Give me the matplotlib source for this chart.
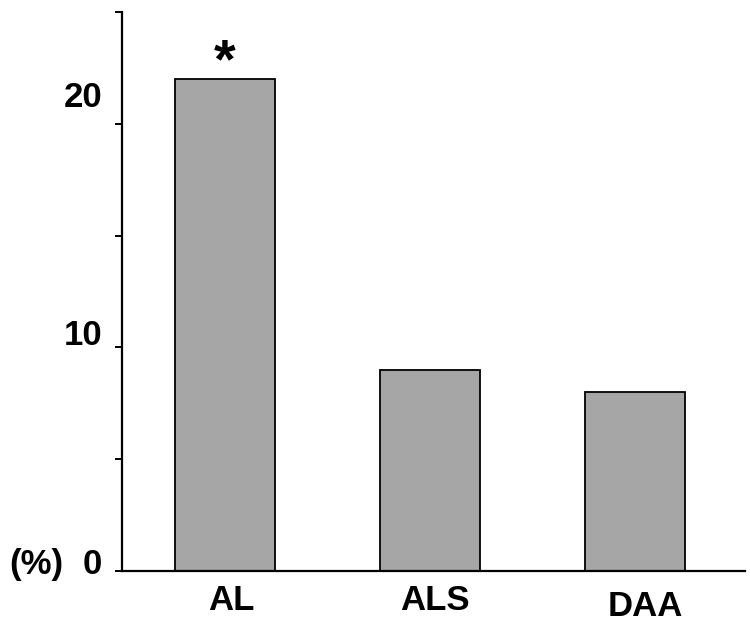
import numpy as np
import matplotlib.pyplot as plt

plt.rcParams['font.family'] = ['Liberation Sans', 'DejaVu Sans']

# data
groups = ["AL", "ALS", "DAA"]
values = [22, 9, 8]
marks = ["*", "", ""]
ytick_vals = [0, 5, 10, 15, 20, 25]
ylabel_vals = [0, 10, 20]
ylabel_pos = [0.27, 10.54, 21.16]   # labels sit a little above their ticks in the original
label_shift = [(0.03, -1.34), (0.025, -1.34), (0.05, -1.61)]  # category labels are a bit off-centre

fig = plt.figure(figsize=(7.5, 6.26), dpi=100)
ax = fig.add_axes([0.1627, 0.0879, 0.831, 0.893])

x = np.arange(len(groups))
ax.bar(x, values, width=0.49, color='#a6a6a6', edgecolor='black', linewidth=1.3, zorder=2)

# significance star, centred a bit above the bar
for xi, v, m in zip(x, values, marks):
    if m:
        ax.text(xi, v + 0.7, m, ha='center', va='center', fontsize=40, fontweight='bold')

ax.set_xlim(-0.502, 2.537)
ax.set_ylim(0, 25)

for s in ['top', 'right']:
    ax.spines[s].set_visible(False)
for s in ['left', 'bottom']:
    ax.spines[s].set_linewidth(1.6)

ax.set_yticks(ytick_vals)
ax.set_yticklabels([])
ax.tick_params(axis='y', direction='out', length=5, width=1.4)
ax.set_xticks([])

for v, p in zip(ylabel_vals, ylabel_pos):
    ax.text(-0.6, p, str(v), ha='right', va='center', fontsize=25, fontweight='bold')
ax.text(-0.79, 0.27, "(%)", ha='right', va='center', fontsize=25, fontweight='bold')

for xi, g, (dx, yy) in zip(x, groups, label_shift):
    ax.text(xi + dx, yy, g, ha='center', va='center', fontsize=25, fontweight='bold')

fig.savefig("out.png", dpi=100)
